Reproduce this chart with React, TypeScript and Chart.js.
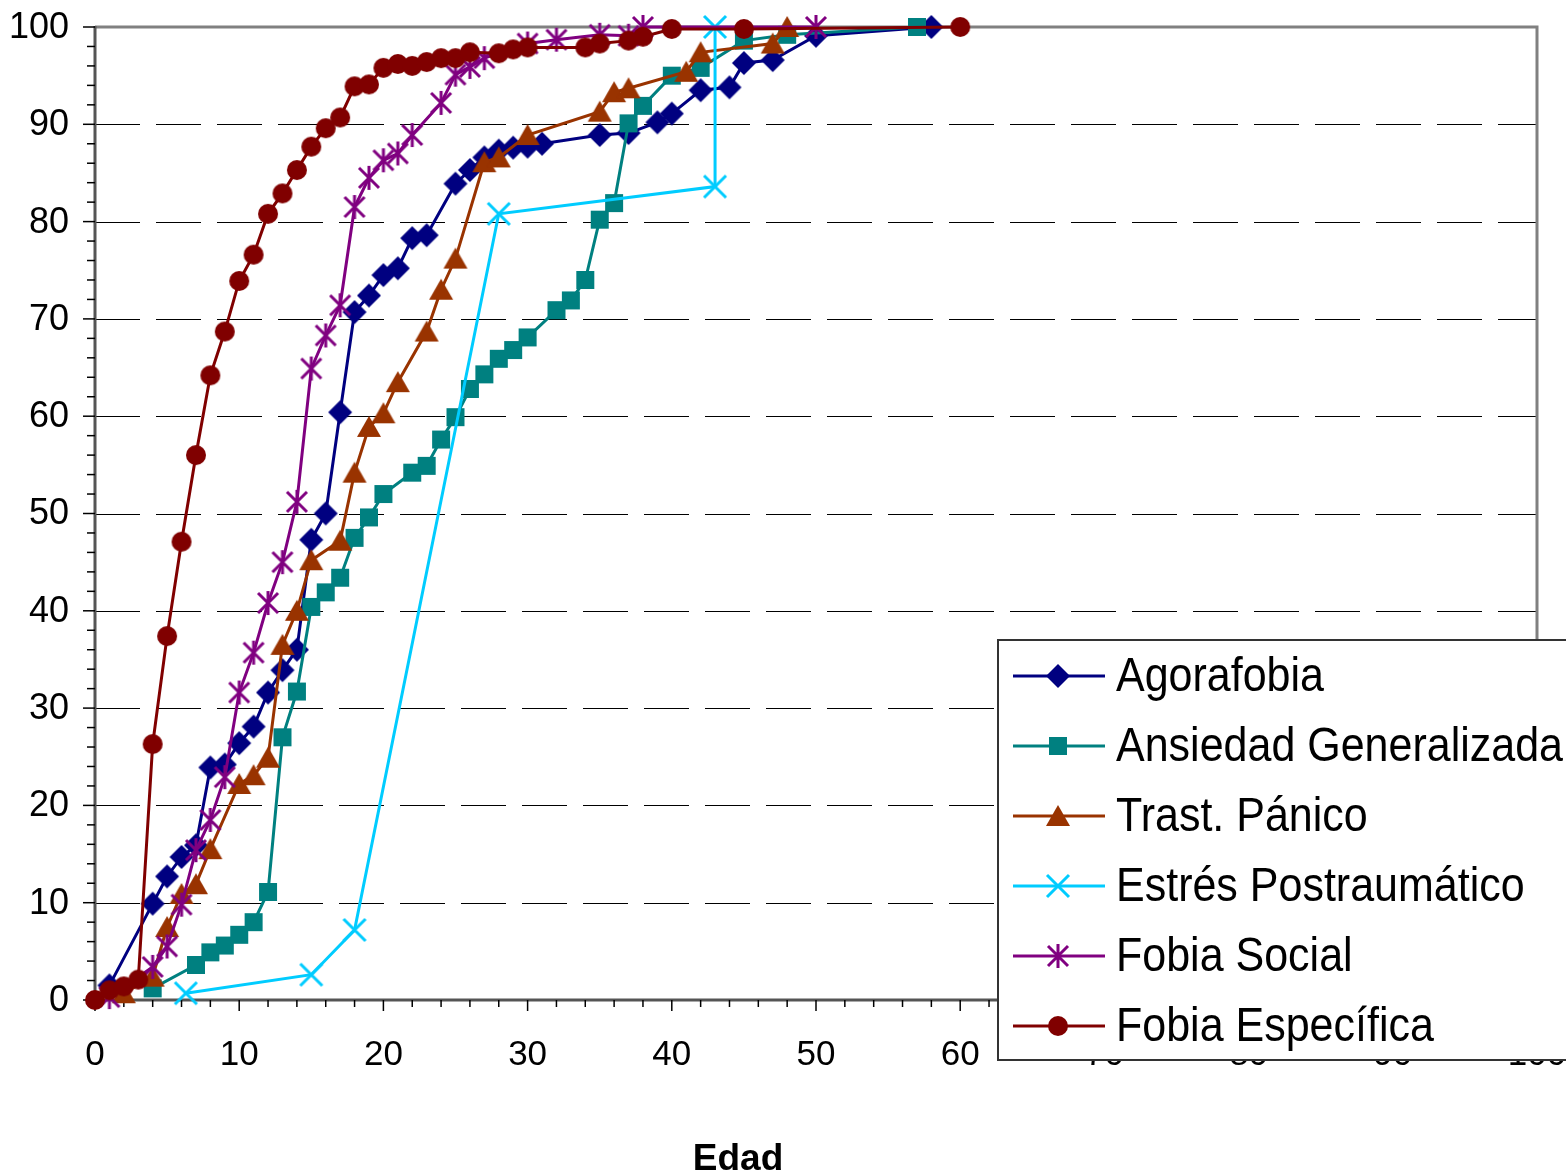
import { useEffect, useRef } from 'react';
import { Chart, registerables } from 'chart.js';

Chart.register(...registerables);

const WIDTH = 1566;
const HEIGHT = 1175;

// Edad (x) and cumulative percentage (y) for each disorder
const agorafobiaX = [1, 4, 5, 6, 7, 8, 9, 10, 11, 12, 13, 14, 15, 16, 17, 18, 19, 20, 21, 22, 23, 25, 26, 27, 28, 29, 30, 31, 35, 37, 39, 40, 42, 44, 45, 47, 50, 58];
const agorafobiaY = [1.5, 9.9, 12.7, 14.7, 15.9, 23.9, 24.2, 26.4, 28.1, 31.6, 33.9, 36, 47.3, 50, 60.4, 70.7, 72.4, 74.5, 75.2, 78.3, 78.6, 83.9, 85.3, 86.6, 87.3, 87.6, 87.7, 88, 88.9, 89.1, 90.2, 91.1, 93.5, 93.8, 96.3, 96.6, 99.1, 100];

const ansiedadX = [4, 7, 8, 9, 10, 11, 12, 13, 14, 15, 16, 17, 18, 19, 20, 22, 23, 24, 25, 26, 27, 28, 29, 30, 32, 33, 34, 35, 36, 37, 38, 40, 42, 45, 48, 57];
const ansiedadY = [1.2, 3.6, 4.9, 5.6, 6.7, 8.0, 11.1, 27.0, 31.7, 40.4, 41.9, 43.4, 47.5, 49.6, 52.0, 54.2, 54.9, 57.6, 59.9, 62.8, 64.3, 65.9, 66.8, 68.1, 70.9, 71.9, 74.0, 80.2, 81.9, 90.1, 91.9, 95.0, 95.8, 98.6, 99.2, 100];

const panicoX = [2, 4, 5, 6, 7, 8, 10, 11, 12, 13, 14, 15, 17, 18, 19, 20, 21, 23, 24, 25, 27, 28, 30, 35, 36, 37, 41, 42, 47, 48];
const panicoY = [0.7, 2.4, 7.5, 10.9, 11.9, 15.5, 22.2, 23.1, 24.9, 36.5, 40, 45.2, 47.2, 54.2, 58.9, 60.3, 63.5, 68.7, 73, 76.2, 86.1, 86.6, 88.9, 91.3, 93.3, 93.7, 95.4, 97.4, 98.3, 100];

const estresX = [6.3, 15, 18, 28, 43, 43];
const estresY = [0.7, 2.6, 7.2, 80.8, 83.6, 100];

const socialX = [1, 4, 5, 6, 7, 8, 9, 10, 11, 12, 13, 14, 15, 16, 17, 18, 19, 20, 21, 22, 24, 25, 26, 27, 30, 32, 35, 37, 38, 50];
const socialY = [0.3, 3.4, 5.5, 9.8, 15.4, 18.5, 22.9, 31.6, 35.7, 40.8, 45, 51.2, 64.9, 68.3, 71.4, 81.5, 84.5, 86.3, 87, 88.9, 92.2, 95.1, 95.9, 96.8, 98.3, 98.7, 99.2, 99.1, 100, 100];

const especificaX = [0, 1, 2, 3, 4, 5, 6, 7, 8, 9, 10, 11, 12, 13, 14, 15, 16, 17, 18, 19, 20, 21, 22, 23, 24, 25, 26, 28, 29, 30, 34, 35, 37, 38, 40, 45, 60];
const especificaY = [0, 1, 1.4, 2.1, 26.3, 37.4, 47.1, 56, 64.2, 68.7, 73.9, 76.6, 80.8, 82.9, 85.3, 87.7, 89.6, 90.7, 93.9, 94.1, 95.8, 96.2, 96, 96.4, 96.8, 96.8, 97.4, 97.3, 97.7, 97.9, 97.9, 98.3, 98.6, 99, 99.8, 99.8, 100];

const seriesNames = ['Agorafobia', 'Ansiedad Generalizada', 'Trast. Pánico', 'Estrés Postraumático', 'Fobia Social', 'Fobia Específica'];
const seriesColors = ['#000080', '#008080', '#993300', '#00CCFF', '#800080', '#800000'];
const seriesMarkers = ['diamond', 'square', 'triangle', 'x', 'asterisk', 'circle'];
const seriesX = [agorafobiaX, ansiedadX, panicoX, estresX, socialX, especificaX];
const seriesY = [agorafobiaY, ansiedadY, panicoY, estresY, socialY, especificaY];

const xTicks = [0, 10, 20, 30, 40, 50, 60, 70, 80, 90, 100];
const yTicks = [0, 10, 20, 30, 40, 50, 60, 70, 80, 90, 100];
const xTitle = 'Edad';

function makeMarker(kind: string, color: string): HTMLCanvasElement {
  const c = document.createElement('canvas');
  const size = kind === 'x' ? 28 : kind === 'square' ? 20 : kind === 'circle' ? 22 : 26;
  c.width = size;
  c.height = size;
  const g = c.getContext('2d')!;
  g.fillStyle = color;
  g.strokeStyle = color;
  g.lineWidth = 3;
  g.lineCap = 'butt';
  const m = size / 2;
  if (kind === 'diamond') {
    g.beginPath();
    g.moveTo(m, 1);
    g.lineTo(size - 1, m);
    g.lineTo(m, size - 1);
    g.lineTo(1, m);
    g.closePath();
    g.fill();
  } else if (kind === 'square') {
    g.fillRect(1, 1, size - 2, size - 2);
  } else if (kind === 'triangle') {
    g.beginPath();
    g.moveTo(m, 2);
    g.lineTo(size - 1, size - 3);
    g.lineTo(1, size - 3);
    g.closePath();
    g.fill();
  } else if (kind === 'circle') {
    g.beginPath();
    g.arc(m, m, m - 1, 0, Math.PI * 2);
    g.fill();
  } else if (kind === 'x') {
    g.beginPath();
    g.moveTo(3, 3);
    g.lineTo(size - 3, size - 3);
    g.moveTo(size - 3, 3);
    g.lineTo(3, size - 3);
    g.stroke();
  } else if (kind === 'asterisk') {
    g.beginPath();
    g.moveTo(3, 3);
    g.lineTo(size - 3, size - 3);
    g.moveTo(size - 3, 3);
    g.lineTo(3, size - 3);
    g.moveTo(m, 1);
    g.lineTo(m, size - 1);
    g.stroke();
  }
  return c;
}

export default function App() {
  const canvasRef = useRef<HTMLCanvasElement | null>(null);

  useEffect(() => {
    const canvas = canvasRef.current;
    if (!canvas) return;
    const markers = seriesMarkers.map((k, i) => makeMarker(k, seriesColors[i]));

    const axesPlugin = {
      id: 'excelAxes',
      beforeDatasetsDraw(chart: any) {
        const { ctx, chartArea: a, scales } = chart;
        const xs = scales.x;
        const ys = scales.y;
        ctx.save();
        // dashed horizontal gridlines
        ctx.strokeStyle = '#000000';
        ctx.lineWidth = 1;
        ctx.setLineDash([45, 16]);
        for (const t of yTicks) {
          if (t === 0 || t === 100) continue;
          const y = Math.round(ys.getPixelForValue(t)) + 0.5;
          ctx.beginPath();
          ctx.moveTo(a.left, y);
          ctx.lineTo(a.right, y);
          ctx.stroke();
        }
        ctx.setLineDash([]);
        // plot frame
        ctx.strokeStyle = '#808080';
        ctx.lineWidth = 3;
        ctx.beginPath();
        ctx.moveTo(a.left, a.top);
        ctx.lineTo(a.right, a.top);
        ctx.lineTo(a.right, a.bottom);
        ctx.stroke();
        // axis lines
        ctx.strokeStyle = '#555555';
        ctx.lineWidth = 3;
        ctx.beginPath();
        ctx.moveTo(a.left, a.top - 1);
        ctx.lineTo(a.left, a.bottom);
        ctx.lineTo(a.right, a.bottom);
        ctx.stroke();
        // tick marks
        ctx.strokeStyle = '#000000';
        ctx.lineWidth = 1.5;
        for (let v = 0; v <= 100; v += 2) {
          const major = v % 10 === 0;
          const y = ys.getPixelForValue(v);
          ctx.beginPath();
          ctx.moveTo(a.left - (major ? 12 : 8), y);
          ctx.lineTo(a.left, y);
          ctx.stroke();
          const x = xs.getPixelForValue(v);
          ctx.beginPath();
          ctx.moveTo(x, a.bottom);
          ctx.lineTo(x, a.bottom + (major ? 11 : 7));
          ctx.stroke();
        }
        // tick labels
        ctx.fillStyle = '#000000';
        ctx.font = '36px "Liberation Sans", Arial, sans-serif';
        ctx.textAlign = 'right';
        ctx.textBaseline = 'middle';
        for (const t of yTicks) {
          ctx.fillText(String(t), 69, ys.getPixelForValue(t) + 1);
        }
        ctx.font = '35px "Liberation Sans", Arial, sans-serif';
        ctx.textAlign = 'center';
        ctx.textBaseline = 'alphabetic';
        for (const t of xTicks) {
          ctx.fillText(String(t), xs.getPixelForValue(t), 1065);
        }
        ctx.restore();
      },
      afterDraw(chart: any) {
        const { ctx } = chart;
        ctx.save();
        // axis title
        ctx.fillStyle = '#000000';
        ctx.font = 'bold 37px "Liberation Sans", Arial, sans-serif';
        ctx.textAlign = 'center';
        ctx.textBaseline = 'alphabetic';
        ctx.fillText(xTitle, 738, 1170);
        // legend box
        const lx = 998;
        const ly = 640;
        ctx.fillStyle = '#ffffff';
        ctx.fillRect(lx, ly, 620, 420);
        ctx.strokeStyle = '#333333';
        ctx.lineWidth = 2;
        ctx.strokeRect(lx, ly, 620, 420);
        seriesNames.forEach((name, i) => {
          const ry = 676 + i * 70;
          ctx.strokeStyle = seriesColors[i];
          ctx.lineWidth = 3;
          ctx.beginPath();
          ctx.moveTo(1013, ry);
          ctx.lineTo(1105, ry);
          ctx.stroke();
          const mk = markers[i];
          ctx.drawImage(mk, 1058 - mk.width / 2, ry - mk.height / 2);
          ctx.save();
          ctx.translate(1116, ry);
          ctx.scale(1, 1.1);
          ctx.fillStyle = '#000000';
          ctx.font = '43px "Liberation Sans", Arial, sans-serif';
          ctx.textAlign = 'left';
          ctx.textBaseline = 'alphabetic';
          ctx.fillText(name, 0, 14);
          ctx.restore();
        });
        ctx.restore();
      },
    };

    const datasets = seriesNames.map((name, i) => ({
      label: name,
      data: seriesX[i].map((x, j) => ({ x, y: seriesY[i][j] })),
      showLine: true,
      borderColor: seriesColors[i],
      backgroundColor: seriesColors[i],
      borderWidth: 3,
      pointStyle: markers[i],
      pointRadius: 10,
      pointHoverRadius: 10,
      tension: 0,
      fill: false,
      clip: false as any,
      order: seriesNames.length - 1 - i,
    }));

    const chart = new Chart(canvas, {
      type: 'scatter',
      data: { datasets },
      options: {
        animation: false,
        responsive: false,
        devicePixelRatio: 1,
        events: [],
        layout: { padding: { left: 95, top: 27, right: 29, bottom: 175 } },
        plugins: { legend: { display: false }, tooltip: { enabled: false }, title: { display: false } },
        scales: {
          x: { type: 'linear', min: 0, max: 100, display: false },
          y: { type: 'linear', min: 0, max: 100, display: false },
        },
      },
      plugins: [axesPlugin],
    });

    return () => chart.destroy();
  }, []);

  return (
    <div style={{ position: 'absolute', left: 0, top: 0, width: WIDTH, height: HEIGHT, background: '#ffffff' }}>
      <canvas ref={canvasRef} width={WIDTH} height={HEIGHT} style={{ display: 'block', width: WIDTH, height: HEIGHT }} />
    </div>
  );
}
